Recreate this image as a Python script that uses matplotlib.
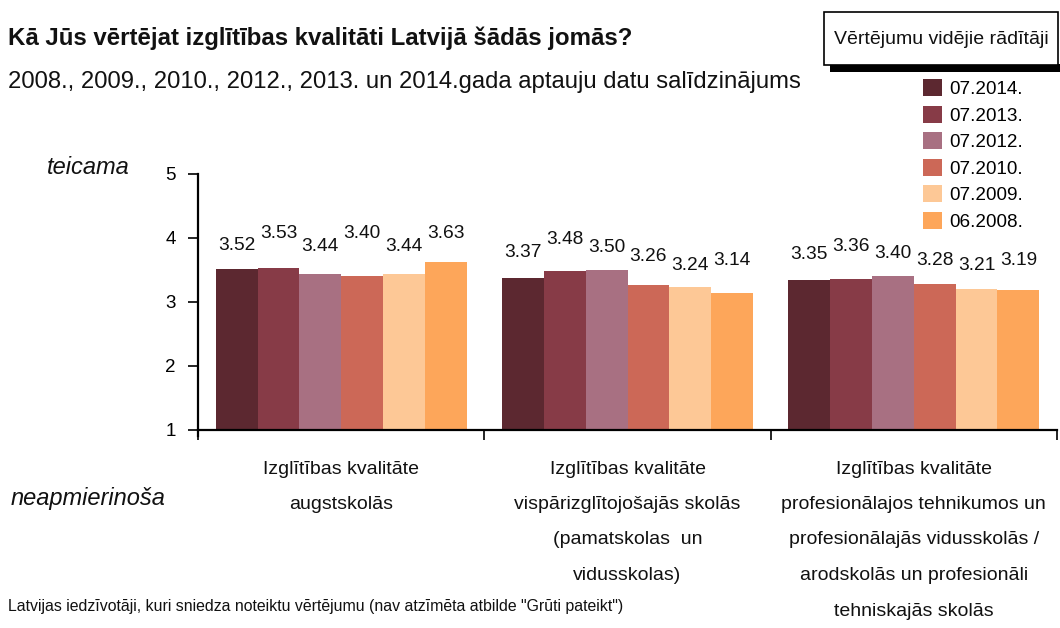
import matplotlib
matplotlib.use("Agg")
import matplotlib.pyplot as plt
import numpy as np
from matplotlib.patches import Rectangle

plt.rcParams['font.family'] = ['Liberation Sans', 'DejaVu Sans']

categories = [
    "Izglītības kvalitāte\naugstskolās",
    "Izglītības kvalitāte\nvispārizglītojošajās skolās\n(pamatskolas  un\nvidusskolas)",
    "Izglītības kvalitāte\nprofesionālajos tehnikumos un\nprofesionālajās vidusskolās /\narodskolās un profesionāli\ntehniskajās skolās",
]
series = ["07.2014.", "07.2013.", "07.2012.", "07.2010.", "07.2009.", "06.2008."]
values = {
    "07.2014.": [3.52, 3.37, 3.35],
    "07.2013.": [3.53, 3.48, 3.36],
    "07.2012.": [3.44, 3.50, 3.40],
    "07.2010.": [3.40, 3.26, 3.28],
    "07.2009.": [3.44, 3.24, 3.21],
    "06.2008.": [3.63, 3.14, 3.19],
}
colors = ["#5C2830", "#873B47", "#A87082", "#CC6857", "#FDC896", "#FDA65A"]
# label vertical offsets (px above bar top), per series per group - layout only
label_offsets_px = [
    [23, 26, 25],
    [35, 32, 32],
    [27, 23, 23],
    [43, 29, 24],
    [27, 21, 23],
    [28, 33, 29],
]

W, H = 1060, 628
fig = plt.figure(figsize=(W / 100, H / 100), dpi=100)
ax_left, ax_right, ax_top, ax_bot = 198, 1057, 174, 430
ax = fig.add_axes([ax_left / W, 1 - ax_bot / H, (ax_right - ax_left) / W, (ax_bot - ax_top) / H])
ax_h = ax_bot - ax_top

n = len(series)
bw = 0.146
x = np.arange(len(categories))
for i, s in enumerate(series):
    pos = x - bw * n / 2 + bw * (i + 0.5)
    ax.bar(pos, np.array(values[s]) - 1, bottom=1, width=bw, color=colors[i],
           label=s, zorder=2)
    for j, (p, v) in enumerate(zip(pos, values[s])):
        ax.annotate(f"{v:.2f}", xy=(p, v), xytext=(0, label_offsets_px[i][j] * 0.72),
                    textcoords="offset points", ha="center", va="center",
                    fontsize=13.8, color="#111111")

ax.set_xlim(-0.5, len(categories) - 0.5)
ax.set_ylim(1, 5)
ax.set_yticks([1, 2, 3, 4, 5])
ax.tick_params(axis='y', direction='out', length=7, width=1.2, labelsize=13.5, pad=9)
ax.set_xticks(np.arange(len(categories) + 1) - 0.5)
ax.set_xticklabels([])
ax.tick_params(axis='x', direction='out', length=7, width=1.2)
for sp in ["top", "right"]:
    ax.spines[sp].set_visible(False)
ax.spines["left"].set_linewidth(1.6)
ax.spines["bottom"].set_linewidth(1.6)
ax.spines["left"].set_bounds(1 - 0.1, 5)

# category labels, one line at a time
first_px, step_px = 469, 35.5
for j, c in enumerate(categories):
    for k, line in enumerate(c.split("\n")):
        y_ax = -((first_px - ax_bot) + step_px * k) / ax_h
        ax.text(j, y_ax, line, transform=ax.get_xaxis_transform(), ha="center",
                va="center", fontsize=14, color="#111111")

fig.text(8 / W, 1 - 38 / H, "Kā Jūs vērtējat izglītības kvalitāti Latvijā šādās jomās?",
         fontsize=17.3, fontweight="bold", va="center", ha="left", color="#111111")
fig.text(8 / W, 1 - 82 / H,
         "2008., 2009., 2010., 2012., 2013. un 2014.gada aptauju datu salīdzinājums",
         fontsize=17.2, va="center", ha="left", color="#111111")
fig.text(130 / W, 1 - 168 / H, "teicama", fontsize=17, style="italic",
         ha="right", va="center", color="#111111")
fig.text(88 / W, 1 - 498 / H, "neapmierinoša", fontsize=17, style="italic",
         ha="center", va="center", color="#111111")
fig.text(8 / W, 1 - 606 / H,
         "Latvijas iedzīvotāji, kuri sniedza noteiktu vērtējumu (nav atzīmēta atbilde \"Grūti pateikt\")",
         fontsize=11.4, ha="left", va="center", color="#111111")

# legend title box with shadow
fig.patches.append(Rectangle((830 / W, 1 - 72 / H), (1060 - 830) / W, 8 / H,
                             transform=fig.transFigure, facecolor="black",
                             edgecolor="none", zorder=0))
fig.patches.append(Rectangle((824 / W, 1 - 65 / H), (1058 - 824) / W, (65 - 12) / H,
                             transform=fig.transFigure, facecolor="white",
                             edgecolor="black", linewidth=1.2, zorder=1))
fig.text(941 / W, 1 - 39 / H, "Vērtējumu vidējie rādītāji", fontsize=14, ha="center",
         va="center", color="#111111", zorder=3)

leg = fig.legend(loc="upper left", bbox_to_anchor=(910 / W, 1 - 66 / H), frameon=False,
                 fontsize=13.6, handlelength=1.0, handleheight=1.0, handletextpad=0.4,
                 labelspacing=0.4, borderpad=0.2)

fig.savefig("out.png", dpi=100)
